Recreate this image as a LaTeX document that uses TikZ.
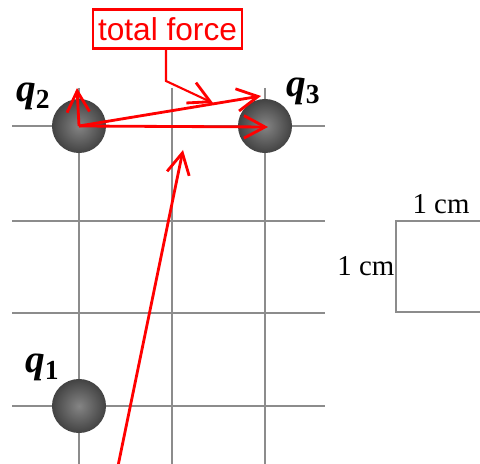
\documentclass[tikz,border=0pt]{standalone}
\usepackage{fontspec}
\setmainfont{Liberation Serif}
\newfontfamily\labelfont{Liberation Sans}
\usetikzlibrary{arrows.meta}
\begin{document}
\begin{tikzpicture}[
  x=0.025cm, y=-0.025cm,
  gridline/.style={draw=black!45, line width=1.4pt},
  charge/.style={circle, minimum size=1.35cm, inner sep=0pt,
                 inner color=black!48, outer color=black!74},
  force/.style={red, line width=2pt,
                -{Straight Barb[length=15pt, width=16pt, line width=2pt]}},
  qlabel/.style={anchor=base west, inner sep=0pt, font=\fontsize{28}{30}\selectfont\bfseries\itshape},
  cmlabel/.style={inner sep=1pt, font=\fontsize{20.5}{22}\selectfont}
]
  \useasboundingbox (0,0) rectangle (480,464);

  % Grid
  \foreach \gx in {79,172,265}
    \draw[gridline] (\gx,88) -- (\gx,470);
  \foreach \gy in {126,221,313,406}
    \draw[gridline] (12,\gy) -- (325,\gy);

  % Charges
  \node[charge] (q2) at (79,126) {};
  \node[charge] (q3) at (265,126) {};
  \node[charge] (q1) at (79,406) {};
  \node[qlabel] (q2lab) at (16,102) {q\textsubscript{\upshape 2}};
  \node[qlabel] (q3lab) at (286,97) {q\textsubscript{\upshape 3}};
  \node[qlabel] (q1lab) at (25,373) {q\textsubscript{\upshape 1}};

  % Scale
  \draw[gridline] (485,221) -- (396,221) -- (396,312) -- (485,312);
  \node[cmlabel] (cmtop) at (441,204) {1 cm};
  \node[cmlabel, anchor=east] (cmleft) at (396,266) {1 cm};

  % Forces
  \coordinate (fup) at (77,88);
  \coordinate (f23) at (268,127);
  \coordinate (ftot) at (261,96);
  \coordinate (fone) at (183,150);
  \coordinate (fbase) at (118,466);
  \draw[force] (q2.center) -- (fup);
  \draw[force] (q2.center) -- (f23);
  \draw[force] (q2.center) -- (ftot);
  \draw[force] (fbase) -- (fone);

  % Label
  \node[draw=red, line width=1.5pt, text=red, inner sep=3pt,
        minimum width=149*0.025cm, minimum height=39*0.025cm,
        font=\labelfont\fontsize{22.5}{24}\selectfont] (total) at (167.5,29) {total force};
  \coordinate (bend) at (166,81);
  \coordinate (tip) at (213,103);
  \draw[force, line width=1.5pt] (total.south -| bend) -- (bend) -- (tip);
\end{tikzpicture}
\end{document}
